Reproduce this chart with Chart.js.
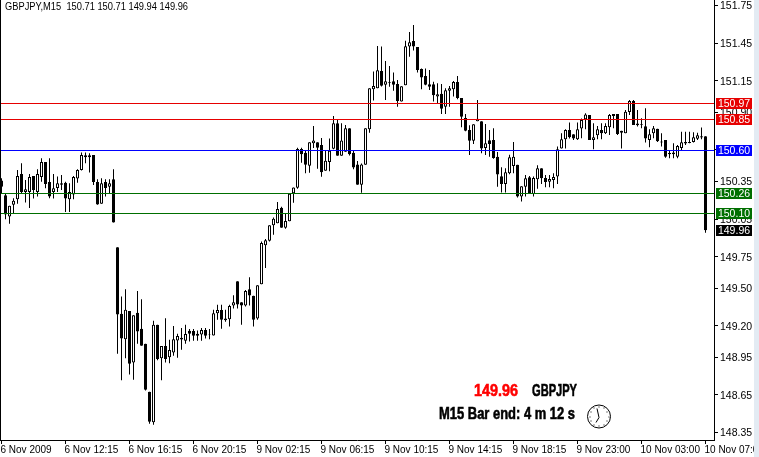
<!DOCTYPE html>
<html>
<head>
<meta charset="utf-8">
<title>GBPJPY,M15</title>
<script src="https://cdn.jsdelivr.net/npm/chart.js@4"></script>
<style>
html, body { margin: 0; padding: 0; background: #fff; overflow: hidden; }
#wrap { position: relative; width: 759px; height: 457px; }
</style>
</head>
<body>
<div id="wrap"><canvas id="chart" width="759" height="457"></canvas></div>
<script>
// bar values, one bar every 15 minutes
const opens = [
    150.356, 150.239, 150.070, 150.163, 150.208, 150.409, 150.266, 150.266, 150.393, 150.266,
    150.385, 150.505, 150.346, 150.266, 150.298, 150.335, 150.340, 150.208, 150.245, 150.372,
    150.441, 150.542, 150.542, 150.560, 150.346, 150.171, 150.346, 150.308, 150.367, 149.826,
    149.296, 149.094, 149.319, 148.909, 149.304, 149.176, 149.057, 148.676, 148.432, 149.208,
    148.941, 149.039, 148.949, 148.988, 149.084, 149.105, 149.081, 149.160, 149.158, 149.137,
    149.131, 149.166, 149.134, 149.123, 149.301, 149.325, 149.259, 149.253, 149.362, 149.555,
    149.388, 149.362, 149.492, 149.439, 149.259, 149.531, 149.842, 149.878, 150.000, 150.016,
    150.140, 149.981, 150.032, 150.255, 150.300, 150.607, 150.578, 150.475, 150.653, 150.661,
    150.639, 150.435, 150.504, 150.610, 150.812, 150.554, 150.586, 150.772, 150.578, 150.485,
    150.323, 150.483, 150.764, 151.083, 151.091, 151.229, 151.120, 151.141, 151.147, 151.125,
    150.985, 151.115, 151.423, 151.468, 151.420, 151.245, 151.189, 151.123, 151.123, 151.025,
    151.048, 150.945, 151.072, 151.083, 151.141, 151.014, 150.855, 150.759, 150.674, 150.828,
    150.828, 150.616, 150.677, 150.680, 150.547, 150.391, 150.330, 150.415, 150.473, 150.483,
    150.229, 150.308, 150.383, 150.250, 150.367, 150.454, 150.377, 150.348, 150.361, 150.388,
    150.611, 150.685, 150.760, 150.725, 150.685, 150.770, 150.844, 150.879, 150.680, 150.717,
    150.760, 150.733, 150.781, 150.887, 150.887, 150.754, 150.733, 150.903, 150.990, 150.810,
    150.805, 150.789, 150.680, 150.733, 150.768, 150.667, 150.680, 150.576, 150.579, 150.547,
    150.616, 150.664, 150.664, 150.664, 150.690, 150.709, 150.710
];
const highs = [
    150.375, 150.255, 150.155, 150.216, 150.441, 150.494, 150.361, 150.409, 150.393, 150.446,
    150.534, 150.505, 150.534, 150.409, 150.388, 150.401, 150.348, 150.335, 150.393, 150.446,
    150.579, 150.579, 150.574, 150.560, 150.367, 150.375, 150.367, 150.367, 150.446, 149.826,
    149.433, 149.492, 149.319, 149.285, 149.478, 149.412, 149.057, 148.676, 149.240, 149.208,
    149.039, 149.261, 149.089, 149.198, 149.137, 149.182, 149.208, 149.174, 149.174, 149.163,
    149.182, 149.182, 149.174, 149.328, 149.367, 149.367, 149.328, 149.367, 149.444, 149.555,
    149.388, 149.486, 149.587, 149.439, 149.523, 149.871, 149.892, 150.000, 150.063, 150.185,
    150.148, 150.095, 150.252, 150.302, 150.618, 150.618, 150.594, 150.661, 150.791, 150.661,
    150.695, 150.600, 150.692, 150.870, 150.838, 150.812, 150.799, 150.772, 150.600, 150.512,
    150.493, 150.772, 151.091, 151.224, 151.428, 151.423, 151.309, 151.269, 151.216, 151.157,
    151.107, 151.470, 151.539, 151.595, 151.420, 151.248, 151.248, 151.237, 151.144, 151.131,
    151.125, 151.091, 151.110, 151.149, 151.189, 151.014, 150.887, 150.796, 150.804, 150.998,
    150.828, 150.807, 150.759, 150.772, 150.584, 150.462, 150.454, 150.561, 150.664, 150.483,
    150.311, 150.401, 150.393, 150.388, 150.478, 150.454, 150.401, 150.401, 150.415, 150.627,
    150.733, 150.765, 150.818, 150.725, 150.818, 150.850, 150.892, 150.879, 150.813, 150.791,
    150.813, 150.813, 150.887, 150.887, 150.887, 150.754, 150.919, 150.998, 150.998, 150.919,
    150.852, 150.932, 150.765, 150.791, 150.768, 150.733, 150.680, 150.600, 150.653, 150.640,
    150.746, 150.746, 150.746, 150.741, 150.738, 150.778, 150.710
];
const lows = [
    150.255, 150.049, 150.012, 150.096, 150.171, 150.255, 150.181, 150.139, 150.213, 150.229,
    150.348, 150.295, 150.216, 150.213, 150.266, 150.282, 150.107, 150.107, 150.208, 150.340,
    150.436, 150.494, 150.420, 150.322, 150.163, 150.171, 150.229, 150.255, 150.022, 148.978,
    148.766, 148.941, 148.813, 148.771, 149.057, 149.041, 148.686, 148.421, 148.413, 148.925,
    148.766, 148.909, 148.903, 148.962, 148.946, 149.009, 149.057, 149.076, 149.081, 149.081,
    149.081, 149.100, 149.094, 149.123, 149.248, 149.176, 149.232, 149.195, 149.338, 149.338,
    149.208, 149.354, 149.362, 149.195, 149.248, 149.531, 149.661, 149.872, 149.925, 150.016,
    149.981, 149.973, 150.032, 150.180, 150.292, 150.499, 150.414, 150.419, 150.615, 150.451,
    150.387, 150.435, 150.430, 150.605, 150.554, 150.554, 150.586, 150.557, 150.446, 150.323,
    150.260, 150.483, 150.738, 150.993, 151.091, 151.105, 150.998, 151.104, 151.072, 150.945,
    150.985, 151.115, 151.343, 151.391, 151.216, 151.083, 151.115, 151.078, 150.985, 150.972,
    150.887, 150.887, 150.945, 151.025, 151.003, 150.780, 150.749, 150.560, 150.648, 150.828,
    150.573, 150.560, 150.547, 150.531, 150.308, 150.261, 150.261, 150.407, 150.415, 150.221,
    150.189, 150.229, 150.250, 150.229, 150.292, 150.330, 150.303, 150.303, 150.295, 150.330,
    150.611, 150.611, 150.691, 150.680, 150.680, 150.693, 150.765, 150.680, 150.606, 150.685,
    150.685, 150.728, 150.720, 150.773, 150.720, 150.611, 150.733, 150.879, 150.799, 150.786,
    150.773, 150.659, 150.622, 150.693, 150.664, 150.627, 150.539, 150.534, 150.534, 150.534,
    150.600, 150.640, 150.653, 150.660, 150.680, 150.685, 149.940
];
const closes = [
    150.308, 150.086, 150.155, 150.195, 150.393, 150.266, 150.287, 150.385, 150.282, 150.409,
    150.505, 150.330, 150.229, 150.295, 150.335, 150.324, 150.213, 150.266, 150.385, 150.441,
    150.560, 150.558, 150.558, 150.346, 150.165, 150.335, 150.298, 150.335, 150.022, 149.290,
    149.100, 149.327, 148.898, 149.285, 149.155, 149.041, 148.691, 148.437, 149.208, 148.935,
    149.039, 148.935, 149.007, 149.094, 149.118, 149.092, 149.134, 149.137, 149.121, 149.121,
    149.166, 149.121, 149.131, 149.301, 149.325, 149.248, 149.245, 149.357, 149.388, 149.370,
    149.362, 149.478, 149.441, 149.248, 149.523, 149.860, 149.881, 150.000, 150.053, 150.130,
    149.981, 150.034, 150.252, 150.302, 150.607, 150.565, 150.483, 150.661, 150.676, 150.618,
    150.422, 150.515, 150.594, 150.812, 150.554, 150.676, 150.772, 150.565, 150.461, 150.323,
    150.485, 150.772, 151.091, 151.110, 151.234, 151.112, 151.147, 151.136, 151.120, 150.990,
    151.107, 151.425, 151.457, 151.423, 151.237, 151.176, 151.120, 151.104, 151.035, 151.043,
    150.929, 151.075, 151.091, 151.141, 151.014, 150.865, 150.754, 150.674, 150.804, 150.849,
    150.611, 150.653, 150.648, 150.536, 150.404, 150.330, 150.422, 150.542, 150.547, 150.229,
    150.311, 150.375, 150.255, 150.377, 150.454, 150.375, 150.345, 150.369, 150.385, 150.606,
    150.685, 150.760, 150.701, 150.691, 150.765, 150.839, 150.882, 150.680, 150.701, 150.765,
    150.733, 150.791, 150.879, 150.871, 150.728, 150.738, 150.905, 150.990, 150.799, 150.797,
    150.799, 150.691, 150.725, 150.773, 150.669, 150.659, 150.547, 150.566, 150.566, 150.632,
    150.661, 150.651, 150.656, 150.701, 150.717, 150.699, 149.960
];

const timeLabels = ['6 Nov 2009', '6 Nov 12:15', '6 Nov 16:15', '6 Nov 20:15', '9 Nov 02:15', '9 Nov 06:15',
    '9 Nov 10:15', '9 Nov 14:15', '9 Nov 18:15', '9 Nov 23:00', '10 Nov 03:00', '10 Nov 07:00'];
const barsPerLabel = 16;
const priceTicks = [151.75, 151.45, 151.15, 150.90, 150.60, 150.35, 150.05, 149.75, 149.50, 149.20, 148.95, 148.65, 148.35];

const levelPrices = [150.97, 150.85, 150.60, 150.26, 150.10, 149.96];
const levelColors = ['#e60000', '#e60000', '#0000ff', '#006f00', '#006f00', '#000000'];
const levelLines = [true, true, true, true, true, false];

const font = '"Liberation Sans"';

const indices = opens.map((v, i) => i);
const isUp = indices.map(i => closes[i] >= opens[i]);

const overlay = {
    id: 'overlay',
    afterDatasetsDraw(chart) {
        const { ctx, chartArea, scales: { y } } = chart;
        ctx.save();
        // support / resistance lines go over the candles
        levelPrices.forEach((p, i) => {
            if (!levelLines[i]) return;
            const py = Math.round(y.getPixelForValue(p)) + 0.5;
            ctx.strokeStyle = levelColors[i];
            ctx.lineWidth = 1;
            ctx.beginPath();
            ctx.moveTo(chartArea.left, py);
            ctx.lineTo(chartArea.right, py);
            ctx.stroke();
        });
        ctx.restore();
    },
    afterDraw(chart) {
        const { ctx, scales: { y } } = chart;
        ctx.save();

        // left edge of the window and the pale strip on the right
        ctx.fillStyle = '#000';
        ctx.fillRect(0, 0, 1, 440);
        ctx.fillStyle = '#e3ebf3';
        ctx.fillRect(754, 0, 5, 457);

        // price tags on the axis
        ctx.font = '10.5px ' + font;
        ctx.textAlign = 'center';
        ctx.textBaseline = 'middle';
        levelPrices.forEach((p, i) => {
            const py = Math.round(y.getPixelForValue(p));
            ctx.fillStyle = levelColors[i];
            ctx.fillRect(716, py - 5, 36, 11);
            ctx.fillStyle = '#fff';
            ctx.fillText(p.toFixed(2), 734, py + 1);
        });

        // header
        ctx.textAlign = 'left';
        ctx.textBaseline = 'alphabetic';
        ctx.fillStyle = '#000';
        ctx.font = '10px ' + font;
        ctx.fillText('GBPJPY,M15  150.71 150.71 149.94 149.96', 5, 10, 183);

        // info block
        ctx.font = 'bold 17px ' + font;
        ctx.lineWidth = 0.6;
        const heavy = (text, x, baseline, width, color) => {
            ctx.fillStyle = color;
            ctx.strokeStyle = color;
            ctx.fillText(text, x, baseline, width);
            ctx.strokeText(text, x, baseline, width);
        };
        heavy('149.96', 474, 396, 44, '#ff0000');
        heavy('GBPJPY', 532, 396, 45, '#000');
        heavy('M15 Bar end: 4 m 12 s', 439, 419, 136, '#000');

        // clock
        const cx = 599, cy = 416.5, r = 11.5;
        ctx.strokeStyle = '#000';
        ctx.lineWidth = 1;
        ctx.beginPath();
        ctx.arc(cx, cy, r, 0, Math.PI * 2);
        ctx.stroke();
        ctx.fillStyle = '#000';
        for (let h = 0; h < 12; h++) {
            const a = h * Math.PI / 6;
            ctx.fillRect(Math.round(cx + Math.sin(a) * (r - 2)) - 0.5, Math.round(cy - Math.cos(a) * (r - 2)) - 0.5, 1, 1);
        }
        ctx.lineWidth = 1;
        ctx.beginPath();
        ctx.moveTo(cx, cy + 1);
        ctx.lineTo(cx - 2, cy - 8);
        ctx.moveTo(cx, cy + 1);
        ctx.lineTo(cx - 3, cy + 6);
        ctx.stroke();

        ctx.restore();
    }
};

// keep the plot area flush with the window, labels may overhang
const noPadding = s => {
    s.paddingLeft = s.paddingRight = s.paddingTop = s.paddingBottom = 0;
};

new Chart(document.getElementById('chart').getContext('2d'), {
    type: 'bar',
    data: {
        labels: indices,
        datasets: [
            {
                label: 'Body',
                data: indices.map(i => ({ x: i, y: [opens[i], closes[i]] })),
                backgroundColor: isUp.map(u => u ? '#ffffff' : '#000000'),
                borderColor: '#000000',
                borderWidth: 1,
                borderSkipped: false,
                inflateAmount: 0,
                barThickness: 3,
                grouped: false,
                order: 1
            },
            {
                label: 'Range',
                data: indices.map(i => ({ x: i, y: [lows[i], highs[i]] })),
                backgroundColor: '#000000',
                borderWidth: 0,
                inflateAmount: 0,
                barThickness: 1,
                grouped: false,
                order: 2
            }
        ]
    },
    options: {
        responsive: false,
        animation: false,
        devicePixelRatio: 1,
        layout: { padding: 0 },
        plugins: { legend: { display: false }, tooltip: { enabled: false }, title: { display: false } },
        scales: {
            x: {
                type: 'linear',
                offset: false,
                min: -0.375,
                max: 178.125,
                afterBuildTicks: s => { s.ticks = timeLabels.map((t, i) => ({ value: i * barsPerLabel })); },
                afterFit: s => { s.height = 17; noPadding(s); },
                grid: { offset: false, drawOnChartArea: false, color: '#000', tickLength: 4 },
                border: { color: '#000' },
                ticks: {
                    autoSkip: false,
                    maxRotation: 0,
                    align: 'start',
                    padding: 0,
                    labelOffset: -1,
                    color: '#000',
                    font: { family: font, size: 10 },
                    callback: v => timeLabels[v / barsPerLabel]
                }
            },
            y: {
                position: 'right',
                min: 148.291,
                max: 151.794,
                afterBuildTicks: s => { s.ticks = priceTicks.map(v => ({ value: v })); },
                afterFit: s => { s.width = 45; noPadding(s); },
                grid: { drawOnChartArea: false, color: '#000', tickLength: 4 },
                border: { color: '#000' },
                ticks: {
                    autoSkip: false,
                    padding: 2,
                    labelOffset: 1,
                    color: '#000',
                    font: { family: font, size: 10.5 },
                    callback: v => Number(v).toFixed(2)
                }
            }
        }
    },
    plugins: [overlay]
});
</script>
</body>
</html>
